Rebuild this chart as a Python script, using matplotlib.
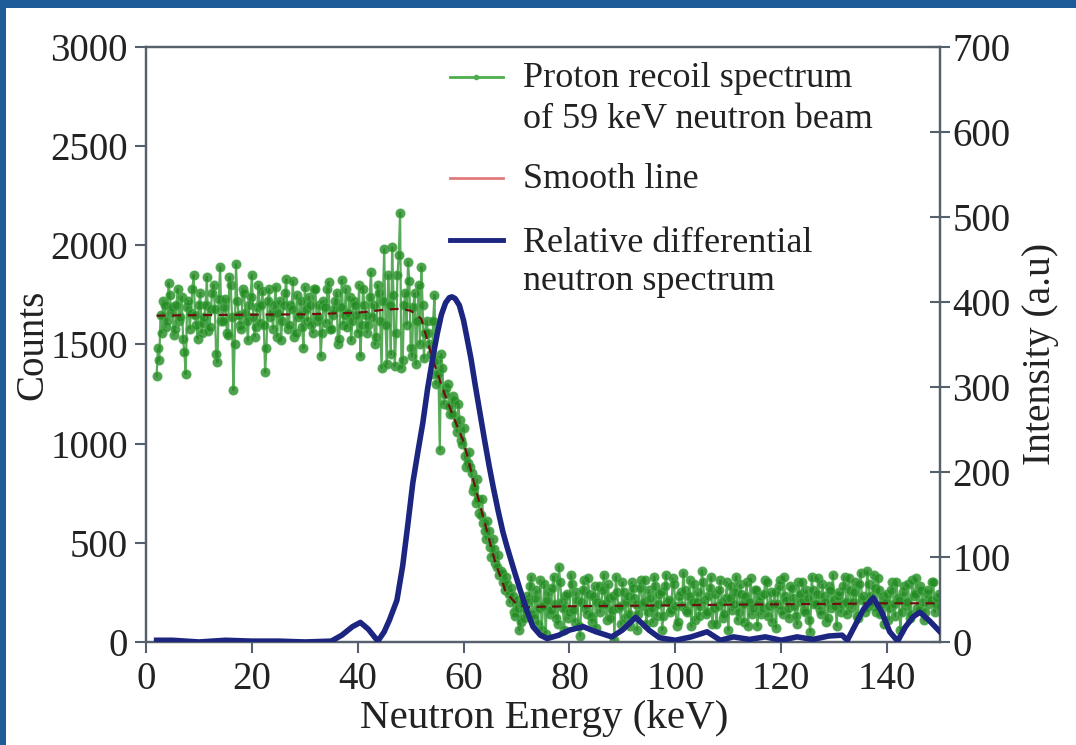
import numpy as np
import matplotlib
matplotlib.use("Agg")
import matplotlib.pyplot as plt
from matplotlib.patches import Rectangle

plt.rcParams['font.family'] = ['Liberation Serif', 'DejaVu Serif']

# === Data ===
# proton recoil spectrum: readings at 2.0, 2.5, ... 150 keV
counts_flat = [
    1340, 1420, 1560, 1700, 1620, 1750, 1690, 1580, 1780, 1640,
    1530, 1350, 1720, 1660, 1850, 1600, 1700, 1560, 1640, 1840,
    1590, 1760, 1680, 1410, 1890, 1620, 1730, 1550, 1800, 1270,
    1905, 1650, 1580, 1760, 1620, 1700, 1850, 1540, 1690, 1610,
    1770, 1360, 1720, 1640, 1580, 1790, 1660, 1520, 1700, 1830,
    1600, 1680, 1540, 1750, 1650, 1590, 1790, 1620, 1700, 1560,
    1780, 1640, 1440, 1720, 1610, 1815, 1580, 1680, 1760, 1530,
    1825, 1650, 1590, 1740, 1620, 1700, 1560, 1440, 1780, 1650,
    1600, 1865, 1700, 1540, 1760, 1380,
]
counts_edge = [
    1980, 1400, 1700, 1990, 1390, 1850, 2165, 1420, 1760, 1915,
    1480, 1690, 1400, 1800, 1890, 1430, 1620,
]
counts_fall = [
    1500, 1350, 1750, 1420, 970, 1380, 1250, 1300, 1150, 1240,
    1100, 1200, 1020, 1080, 880, 960, 850, 780, 820, 650,
    720, 560, 610, 480, 520, 400, 440, 360, 300, 330,
    240, 270, 150, 210, 60, 190, 120, 230,
]
counts_tail = [
    280, 140, 220, 90, 310, 180, 40, 250, 160, 330,
    120, 380, 200, 60, 240, 150, 290, 100, 210, 30,
    260, 170, 320, 130, 230, 70, 280, 190, 340, 110,
    220, 160, 10, 250, 180, 300, 120, 230, 80, 270,
    190, 140, 310, 200, 90, 260, 170, 330, 130, 240,
    60, 280, 200, 150, 320, 180, 100, 250, 350, 160,
    230, 80, 290, 200, 130, 360, 210, 150, 270, 90,
    240, 180, 310, 120, 220, 60, 280, 190, 330, 150,
    240, 100, 300, 200, 140, 260, 80, 230, 170, 310,
    130, 250, 190, 70, 280, 160, 330, 210, 120, 270,
    180, 90, 240, 300, 150, 220, 50, 260, 190, 320,
    140, 230, 100, 280, 170, 210, 80, 250, 190, 330,
    140, 260, 200, 300, 120, 350, 230, 170, 290, 210,
    340, 150, 260, 190, 90, 240, 170, 300, 130, 220,
    60, 250, 180, 290, 140, 230, 320, 160, 260, 110,
    240, 190, 300, 150, 220, 180,
]
# readings in between: 2.25, 2.75, ... 149.75 keV
mid_flat = [
    1480, 1650, 1720, 1590, 1810, 1660, 1550, 1700, 1620, 1740,
    1460, 1690, 1580, 1780, 1650, 1530, 1760, 1610, 1700, 1570,
    1680, 1800, 1450, 1730, 1620, 1690, 1560, 1840, 1640, 1500,
    1720, 1600, 1780, 1660, 1520, 1740, 1640, 1590, 1800, 1700,
    1600, 1480, 1780, 1660, 1700, 1540, 1720, 1620, 1760, 1580,
    1700, 1820, 1560, 1640, 1720, 1480, 1680, 1740, 1600, 1780,
    1620, 1700, 1560, 1690, 1780, 1580, 1650, 1720, 1500, 1690,
    1600, 1780, 1660, 1520, 1720, 1650, 1800, 1600, 1700, 1560,
    1740, 1640, 1500, 1800, 1620, 1720,
]
mid_edge = [
    1600, 1850, 1450, 1750, 1560, 1950, 1380, 1700, 1600, 1820,
    1440, 1760, 1620, 1500, 1700, 1560,
]
mid_fall = [
    1560, 1450, 1620, 1300, 1350, 1450, 1200, 1280, 1190, 1150,
    1220, 1060, 1120, 1000, 940, 900, 880, 760, 700, 720,
    640, 600, 520, 560, 430, 470, 380, 340, 350, 260,
    290, 200, 230, 130, 170, 100, 200, 160,
]
mid_tail = [
    200, 330, 120, 260, 170, 60, 290, 210, 140, 270,
    190, 90, 300, 170, 230, 120, 340, 160, 250, 80,
    200, 310, 140, 240, 100, 280, 200, 150, 260, 190,
    290, 120, 230, 330, 170, 90, 250, 200, 140, 300,
    220, 60, 270, 180, 310, 150, 220, 100, 280, 190,
    250, 130, 340, 210, 160, 290, 80, 230, 180, 260,
    150, 310, 200, 110, 250, 180, 300, 140, 230, 330,
    170, 90, 260, 200, 140, 300, 220, 160, 250, 110,
    290, 190, 230, 80, 320, 170, 260, 200, 140, 240,
    300, 180, 100, 250, 190, 310, 140, 230, 170, 280,
    220, 130, 300, 200, 160, 260, 110, 330, 190, 240,
    160, 290, 200, 120, 260, 340, 180, 230, 150, 280,
    200, 320, 170, 250, 130, 290, 210, 150, 360, 230,
    180, 270, 320, 140, 230, 200, 110, 260, 190, 300,
    210, 150, 280, 200, 120, 310, 240, 170, 280, 200,
    150, 260, 210, 300, 190, 240,
]

proton_energy = np.arange(8, 601) / 4.0
proton_counts = np.empty(len(proton_energy))
proton_counts[0::2] = counts_flat + counts_edge + counts_fall + counts_tail
proton_counts[1::2] = mid_flat + mid_edge + mid_fall + mid_tail

# smooth line through the proton spectrum
smooth_energy = [2, 10, 20, 30, 40, 45, 48, 50, 52, 54, 56, 58, 60, 62, 64,
                 66, 68, 70, 72, 75, 80, 90, 100, 110, 120, 130, 140, 150]
smooth_counts = [1645, 1648, 1650, 1652, 1660, 1675, 1680, 1670, 1630, 1440,
                 1280, 1140, 1010, 800, 600, 400, 250, 190, 175, 178, 180,
                 182, 185, 188, 190, 192, 195, 195]

# relative differential neutron spectrum (right axis)
diff_energy = [2, 5, 10, 15, 20, 25, 30, 35, 37, 39, 40.5, 42, 43.8, 45, 46,
               47.4, 48.5, 49.5, 50.4, 51.4, 52.3, 53.2, 54.2, 55, 55.8, 56.6,
               57.3, 57.8, 58.4, 59.2, 60, 60.6, 61.4, 62.2, 63.1, 64, 64.8,
               65.6, 66.5, 67.4, 68.2, 69.5, 70.7, 72, 73.1, 74.5, 75.8,
               78, 80, 82.6, 85, 88, 90, 92.5, 95, 97, 100, 103, 106, 108.5,
               111, 114, 117, 120, 123, 126, 129, 131.5, 132.5, 134, 135.5,
               137.4, 139, 140.5, 142, 143.5, 145, 146.2, 148, 150]
diff_intensity = [2, 2, 0, 2, 1, 1, 0, 1, 8, 18, 23, 15, 1, 12, 26,
                  49, 90, 140, 187, 225, 258, 298, 335, 362, 385, 399,
                  405, 406, 404, 396, 378, 359, 333, 302, 269, 236, 208,
                  182, 155, 130, 112, 85, 61, 36, 18, 8, 4,
                  8, 14, 18, 12, 6, 14, 29, 14, 5, 2, 6, 12, 2,
                  6, 3, 6, 2, 6, 3, 7, 8, 2, 20, 38,
                  52, 35, 12, 1, 18, 30, 35, 25, 12]

x_ticks = [0, 20, 40, 60, 80, 100, 120, 140]
count_ticks = [0, 500, 1000, 1500, 2000, 2500, 3000]
intensity_ticks = [0, 100, 200, 300, 400, 500, 600, 700]

# === PLOT ===
spine_col = '#56606c'
text_col = '#222222'

fig = plt.figure(figsize=(10.76, 7.45), dpi=100, facecolor='#1d5c97')
fig.add_artist(Rectangle((6 / 1076, 0), 1, 737 / 745, transform=fig.transFigure,
                         facecolor='white', edgecolor='none', zorder=0))
ax = fig.add_axes([0.1357, 0.1383, 0.7379, 0.7987])
ax2 = ax.twinx()

ax.plot(proton_energy, proton_counts, color='#2f952f', lw=1.6, marker='o', ms=6.5,
        mfc='#238a23', mec='#48aa48', mew=0.8, alpha=0.8, zorder=2)
ax.plot(smooth_energy, smooth_counts, color='#6e1010', lw=1.6, dashes=(4, 3), zorder=3)
ax2.plot(diff_energy, diff_intensity, color='#1c2580', lw=4, zorder=4,
         solid_joinstyle='round')

ax.set_xlim(0, 150)
ax.set_ylim(0, 3000)
ax2.set_ylim(0, 700)
ax.set_xticks(x_ticks)
ax.set_yticks(count_ticks)
ax2.set_yticks(intensity_ticks)

for a in (ax, ax2):
    for sp in a.spines.values():
        sp.set_color(spine_col)
        sp.set_linewidth(1.6)
ax.tick_params(axis='both', direction='out', length=8, width=1.5, color=spine_col,
               labelsize=28, labelcolor=text_col)
ax.tick_params(axis='x', pad=6)
ax.tick_params(axis='y', pad=5)
ax2.tick_params(axis='y', direction='inout', length=14, width=1.5, color=spine_col,
                labelsize=28, labelcolor=text_col, pad=2)

ax.set_xlabel('Neutron Energy (keV)', fontsize=29.5, color=text_col)
ax.xaxis.set_label_coords(0.501, -0.128)
ax.xaxis.label.set_va('center')
ax.set_ylabel('Counts', fontsize=28, color=text_col)
ax.yaxis.set_label_coords(-0.142, 0.5)
ax.yaxis.label.set_va('center')
ax2.set_ylabel('Intensity (a.u)', fontsize=28.5, color=text_col)
ax2.yaxis.set_label_coords(1.126, 0.484)
ax2.yaxis.label.set_va('center')

# hand-placed legend (handles line up with the first line of each label)
tr = ax2.transAxes
hx = [0.383, 0.416, 0.450]
ax2.plot(hx, [0.9496] * 3, color='#4cae4c', lw=2, marker='o', ms=3, markevery=[1],
         transform=tr, clip_on=False)
ax2.plot(hx, [0.7798] * 3, color='#e07b7b', lw=2, transform=tr, clip_on=False)
ax2.plot(hx, [0.6756] * 3, color='#1c2580', lw=3.5, transform=tr, clip_on=False)
legend_lines = [
    ('Proton recoil spectrum', 0.9328),
    ('of 59 keV neutron beam', 0.8639),
    ('Smooth line', 0.7630),
    ('Relative differential', 0.6555),
    ('neutron spectrum', 0.5916),
]
for txt, yb in legend_lines:
    ax2.text(0.4748, yb, txt, transform=tr, fontsize=26, color=text_col,
             va='baseline', ha='left')

ax2.set_xlim(0, 150)
ax2.set_ylim(0, 700)

plt.savefig("out.png", dpi=100, facecolor=fig.get_facecolor())
